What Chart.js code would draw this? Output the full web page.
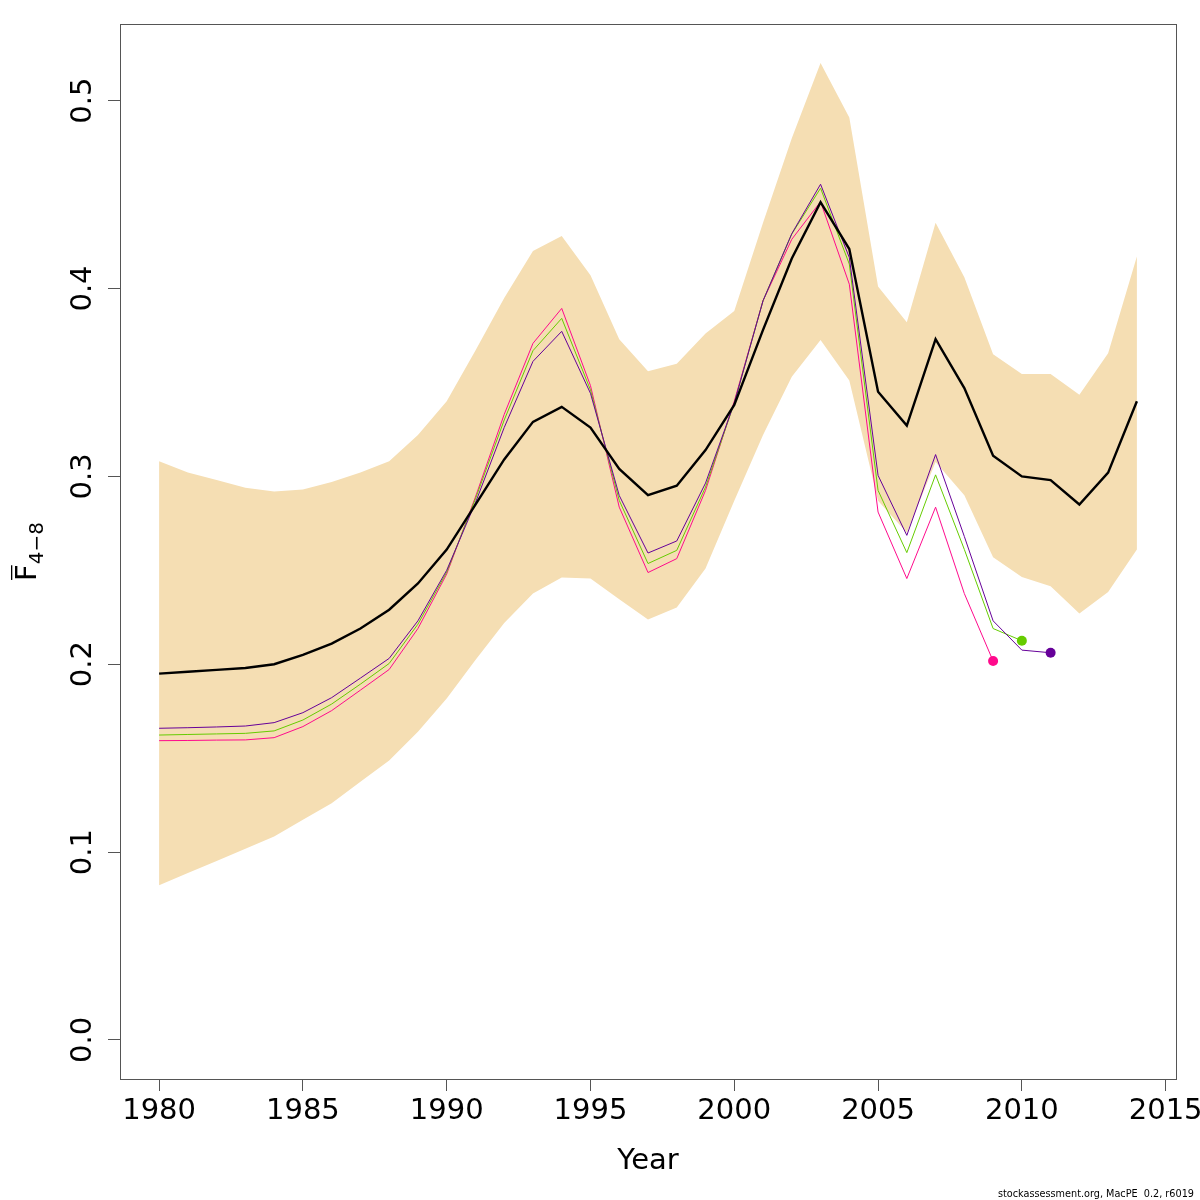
<!DOCTYPE html>
<html>
<head>
<meta charset="utf-8">
<script src="https://cdn.jsdelivr.net/npm/chart.js@4.4.1/dist/chart.umd.min.js"></script>
<style>
  body { margin: 0; background: #fff; }
  #wrap { width: 1200px; height: 1200px; }
</style>
</head>
<body>
<div id="wrap"><canvas id="fbarChart" width="1200" height="1200"></canvas></div>
<script>
const years = [
  1980, 1981, 1982, 1983, 1984, 1985, 1986, 1987, 1988, 1989,
  1990, 1991, 1992, 1993, 1994, 1995, 1996, 1997, 1998, 1999,
  2000, 2001, 2002, 2003, 2004, 2005, 2006, 2007, 2008, 2009,
  2010, 2011, 2012, 2013, 2014,
];

// estimate
const fbar = [
  0.195, 0.196, 0.197, 0.198, 0.200, 0.205, 0.211, 0.219, 0.229, 0.243,
  0.261, 0.285, 0.309, 0.329, 0.337, 0.326, 0.304, 0.290, 0.295, 0.314,
  0.338, 0.378, 0.416, 0.446, 0.421, 0.345, 0.327, 0.373, 0.347, 0.311,
  0.300, 0.298, 0.285, 0.302, 0.340,
];

// confidence band
const upper = [
  0.308, 0.302, 0.298, 0.294, 0.292, 0.293, 0.297, 0.302, 0.308, 0.322,
  0.340, 0.367, 0.395, 0.420, 0.428, 0.407, 0.373, 0.356, 0.360, 0.376,
  0.388, 0.435, 0.480, 0.520, 0.491, 0.401, 0.382, 0.435, 0.406, 0.365,
  0.3545, 0.3545, 0.3435, 0.3655, 0.417,
];
const lower = [
  0.0823, 0.0888, 0.0952, 0.1018, 0.1083, 0.1172, 0.126, 0.1374, 0.1487, 0.1641,
  0.1818, 0.2022, 0.222, 0.2376, 0.2461, 0.2456, 0.2346, 0.2238, 0.2302, 0.2509,
  0.287, 0.322, 0.353, 0.3726, 0.351, 0.287, 0.270, 0.3076, 0.290, 0.257,
  0.2464, 0.2415, 0.227, 0.2385, 0.261,
];

// retrospective runs (peels)
const retro2011 = [
  0.1659, 0.1662, 0.1666, 0.1671, 0.1689, 0.1742, 0.1822, 0.1926, 0.2031, 0.2231,
  0.250, 0.286, 0.326, 0.3612, 0.3772, 0.3442, 0.2898, 0.2592, 0.2656, 0.2964,
  0.339, 0.3935, 0.4292, 0.4555, 0.4165, 0.3005, 0.2686, 0.3116, 0.268, 0.2231,
  0.2075, 0.2061,
];
const retro2010 = [
  0.1623, 0.1626, 0.1629, 0.1632, 0.1645, 0.1703, 0.1788, 0.1894, 0.2004, 0.2213,
  0.249, 0.288, 0.330, 0.3669, 0.3841, 0.346, 0.2872, 0.2536, 0.2606, 0.2943,
  0.339, 0.3935, 0.429, 0.4534, 0.413, 0.2925, 0.2594, 0.3008, 0.2611, 0.219,
  0.2125,
];
const retro2009 = [
  0.1593, 0.1594, 0.1596, 0.1597, 0.1609, 0.1668, 0.1753, 0.1862, 0.1972, 0.219,
  0.248, 0.289, 0.333, 0.3708, 0.3894, 0.3483, 0.2836, 0.2488, 0.2562, 0.2925,
  0.340, 0.3935, 0.4262, 0.4462, 0.4023, 0.281, 0.2456, 0.2836, 0.2376, 0.2017,
];

const xTicks = [1980, 1985, 1990, 1995, 2000, 2005, 2010, 2015];
const yTicks = [0.0, 0.1, 0.2, 0.3, 0.4, 0.5];

const FONT = '"DejaVu Sans", "Liberation Sans", sans-serif';
const AXIS_COL = "#555";

const toPoints = (vals) => vals.map((v, i) => ({ x: years[i], y: v }));

const lastDot = (vals) => (ctx) => (ctx.dataIndex === vals.length - 1 ? 5 : 0);

function retroSet(vals, color, order) {
  return {
    data: toPoints(vals),
    borderColor: color,
    borderWidth: 1,
    pointRadius: lastDot(vals),
    pointBackgroundColor: color,
    pointBorderWidth: 0,
    fill: false,
    order: order,
  };
}

// box, rotated y labels, y title, footer
const rDecor = {
  id: "rDecor",
  afterDraw(chart) {
    const { ctx, chartArea, scales } = chart;
    ctx.save();

    ctx.strokeStyle = AXIS_COL;
    ctx.lineWidth = 1;
    ctx.strokeRect(chartArea.left + 0.5, chartArea.top + 0.5,
      chartArea.right - chartArea.left, chartArea.bottom - chartArea.top);

    ctx.fillStyle = "#000";
    ctx.font = "29px " + FONT;
    ctx.textAlign = "center";
    ctx.textBaseline = "alphabetic";
    yTicks.forEach((v) => {
      ctx.save();
      ctx.translate(91, scales.y.getPixelForValue(v));
      ctx.rotate(-Math.PI / 2);
      ctx.fillText(v.toFixed(1), 0, 0);
      ctx.restore();
    });

    // y title: F-bar with subscript 4-8
    const midY = (chartArea.top + chartArea.bottom) / 2;
    ctx.save();
    ctx.translate(36, midY);
    ctx.rotate(-Math.PI / 2);
    ctx.textAlign = "left";
    ctx.font = "29px " + FONT;
    const wF = ctx.measureText("F").width;
    ctx.font = "20px " + FONT;
    const wS = ctx.measureText("4\u22128").width;
    const x0 = -(wF + wS) / 2;
    ctx.font = "29px " + FONT;
    ctx.fillText("F", x0, 0);
    ctx.fillRect(x0 + 1, -25, wF - 2, 1.3);
    ctx.font = "20px " + FONT;
    ctx.fillText("4\u22128", x0 + wF, 7);
    ctx.restore();

    ctx.font = "9.7px " + FONT;
    ctx.textAlign = "right";
    ctx.fillText("stockassessment.org, MacPE  0.2, r6019", 1194, 1197);

    ctx.restore();
  },
};

const ctxLine = document.getElementById("fbarChart");

new Chart(ctxLine, {
  type: "line",
  data: {
    datasets: [
      {
        data: toPoints(fbar),
        borderColor: "#000",
        borderWidth: 2.4,
        pointRadius: 0,
        fill: false,
        order: 0,
      },
      retroSet(retro2011, "#660099", 1),
      retroSet(retro2010, "#66CC00", 2),
      retroSet(retro2009, "#FF0A8C", 3),
      {
        data: toPoints(upper),
        borderColor: "rgba(0,0,0,0)",
        borderWidth: 0,
        pointRadius: 0,
        backgroundColor: "#F5DEB3",
        fill: "+1",
        order: 5,
      },
      {
        data: toPoints(lower),
        borderColor: "rgba(0,0,0,0)",
        borderWidth: 0,
        pointRadius: 0,
        fill: false,
        order: 6,
      },
    ],
  },
  options: {
    responsive: false,
    animation: false,
    devicePixelRatio: 1,
    layout: { padding: { top: 24, right: 24, left: 0, bottom: 0 } },
    plugins: {
      legend: { display: false },
      tooltip: { enabled: false },
    },
    scales: {
      x: {
        type: "linear",
        position: "bottom",
        min: 1978.64,
        max: 2015.36,
        afterBuildTicks: (scale) => {
          scale.ticks = xTicks.map((v) => ({ value: v }));
        },
        afterFit: (scale) => {
          scale.height = 121;
          scale.paddingLeft = 0;
          scale.paddingRight = 0;
        },
        ticks: {
          color: "#000",
          font: { family: FONT, size: 29 },
          padding: 3,
          maxRotation: 0,
          autoSkip: false,
          callback: (v) => String(v),
        },
        grid: {
          drawOnChartArea: false,
          drawTicks: true,
          tickLength: 12,
          color: AXIS_COL,
        },
        border: { display: false },
        title: {
          display: true,
          text: "Year",
          color: "#000",
          font: { family: FONT, size: 29 },
          padding: { top: 4, bottom: 21 },
        },
      },
      y: {
        type: "linear",
        min: -0.0208,
        max: 0.5408,
        afterBuildTicks: (scale) => {
          scale.ticks = yTicks.map((v) => ({ value: v }));
        },
        afterFit: (scale) => {
          scale.width = 120;
          scale.paddingTop = 0;
          scale.paddingBottom = 0;
        },
        ticks: { display: false },
        grid: {
          drawOnChartArea: false,
          drawTicks: true,
          tickLength: 12,
          color: AXIS_COL,
        },
        border: { display: false },
      },
    },
  },
  plugins: [rDecor],
});
</script>
</body>
</html>
